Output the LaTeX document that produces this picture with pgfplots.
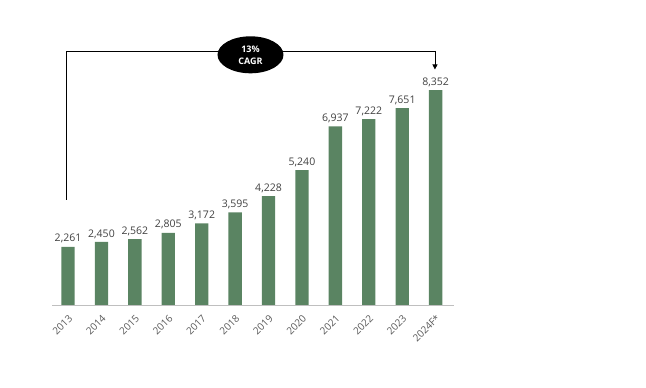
\documentclass[border=0pt]{standalone}
\usepackage{pgfplots}
\pgfplotsset{compat=1.18}
\usepackage{fontspec}
\setmainfont{Open Sans}
\usetikzlibrary{shapes.geometric,arrows.meta}
\definecolor{bargreen}{RGB}{90,132,98}
\definecolor{lblgray}{RGB}{64,64,64}
\definecolor{tickgray}{RGB}{89,89,89}
\definecolor{axgray}{RGB}{191,191,191}
\begin{document}
\begin{tikzpicture}
\useasboundingbox (0,0) rectangle (646pt,388pt);
\begin{axis}[
  at={(52pt,83pt)}, anchor=south west,
  scale only axis,
  width=402pt, height=257.4pt,
  xmin=-0.48, xmax=11.55,
  ymin=0, ymax=10000,
  axis x line=bottom, axis y line=none,
  x axis line style={draw=axgray, line width=0.8pt, -},
  xtick=data,
  xticklabels={2013,2014,2015,2016,2017,2018,2019,2020,2021,2022,2023,2024F*},
  x tick label style={xshift=5pt, yshift=-9pt, rotate=45, anchor=east, font=\fontsize{10}{11}\selectfont, text=tickgray},
  major tick length=0pt,
  ytick=\empty,
  clip=false,
  nodes near coords,
  nodes near coords style={font=\fontsize{10.5}{12}\selectfont, text=lblgray, /pgf/number format/1000 sep={,}, yshift=0pt},
  /pgf/number format/assume math mode=true,
]
\addplot[ybar, bar width=13.3pt, fill=bargreen, draw=none] coordinates {
(0,2261) (1,2450) (2,2562) (3,2805) (4,3172) (5,3595) (6,4228) (7,5240) (8,6937) (9,7222) (10,7651) (11,8352)};
\draw[black, line width=0.8pt] (axis cs:-0.05,4080) -- (axis cs:-0.05,9870) -- (axis cs:10.98,9870);
\draw[black, line width=0.8pt, -{Triangle[length=5pt,width=5pt]}] (axis cs:10.98,9870) -- (axis cs:10.98,9150);
\node[ellipse, fill=black, minimum width=66pt, minimum height=37pt, inner sep=0pt, text=white, font=\fontsize{9}{12}\selectfont\bfseries, align=center] at (axis cs:5.46,9720) {13\%\\CAGR};
\end{axis}
\end{tikzpicture}
\end{document}
